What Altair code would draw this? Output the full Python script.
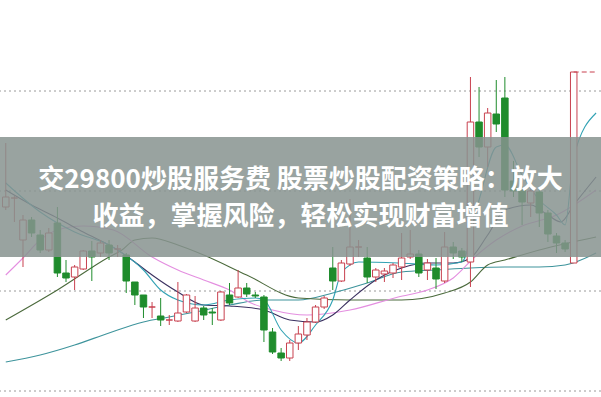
import altair as alt
import pandas as pd

# Daily candles (index = trading day)
day = list(range(67))
open_ = [10.84, 10.93, 10.51, 10.71, 10.56, 10.41, 10.68, 10.18, 10.14, 10.22,
         10.40, 10.38, 10.46, 10.42, 10.36, 10.09, 9.96, 9.84, 9.75, 9.71,
         9.70, 9.79, 9.70, 9.83, 9.79, 9.71, 9.96, 9.94, 10.03, 9.96,
         9.94, 9.59, 9.38, 9.33, 9.48, 9.56, 9.69, 9.84, 10.23, 10.10,
         10.27, 10.44, 10.33, 10.14, 10.17, 10.18, 10.24, 10.34, 10.37, 10.21,
         10.23, 10.10, 10.44, 10.40, 10.29, 11.69, 11.44, 11.77, 11.93, 11.10,
         11.01, 10.88, 10.99, 10.78, 10.55, 10.48, 10.28]
high = [11.48, 10.95, 10.76, 10.74, 10.61, 10.63, 10.84, 10.31, 10.26, 10.41,
        10.50, 10.51, 10.51, 10.46, 10.38, 10.09, 9.96, 9.89, 9.93, 9.76,
        10.09, 9.97, 9.95, 9.85, 9.83, 10.00, 10.08, 10.21, 10.08, 9.99,
        9.96, 9.63, 9.43, 9.51, 9.65, 9.73, 9.86, 9.95, 10.44, 10.31,
        10.92, 10.51, 10.44, 10.23, 10.23, 10.28, 10.58, 10.61, 10.41, 10.32,
        10.33, 10.59, 10.49, 10.43, 12.14, 12.04, 11.83, 12.11, 12.14, 11.30,
        11.05, 11.04, 11.03, 10.81, 10.58, 10.51, 12.19]
low = [10.81, 10.69, 10.24, 10.54, 10.38, 10.39, 10.14, 10.09, 10.01, 10.21,
       10.10, 10.34, 10.31, 10.34, 9.98, 9.86, 9.73, 9.73, 9.65, 9.66,
       9.69, 9.78, 9.69, 9.71, 9.66, 9.70, 9.86, 9.93, 9.94, 9.93,
       9.49, 9.37, 9.30, 9.30, 9.41, 9.51, 9.68, 9.82, 10.01, 10.09,
       10.25, 10.34, 10.08, 10.09, 10.09, 10.13, 10.11, 10.32, 10.14, 10.11,
       10.02, 10.08, 10.32, 10.29, 10.04, 11.34, 11.24, 11.59, 10.94, 10.94,
       10.66, 10.74, 10.64, 10.49, 10.38, 10.39, 10.28]
close = [10.94, 10.93, 10.71, 10.58, 10.41, 10.58, 10.18, 10.13, 10.24, 10.40,
         10.34, 10.48, 10.38, 10.42, 10.10, 9.96, 9.84, 9.84, 9.71, 9.71,
         9.78, 9.96, 9.83, 9.76, 9.78, 9.99, 9.88, 10.03, 9.97, 9.95,
         9.61, 9.39, 9.33, 9.48, 9.57, 9.69, 9.84, 9.93, 10.10, 10.28,
         10.44, 10.44, 10.14, 10.21, 10.20, 10.26, 10.33, 10.37, 10.18, 10.28,
         10.12, 10.44, 10.38, 10.34, 11.69, 11.44, 11.78, 11.67, 11.01, 11.00,
         10.89, 11.00, 10.78, 10.57, 10.48, 10.42, 12.19]

# Moving-average lines (day, value)
ma_a_day = [0, 4, 8, 12, 16, 19, 22, 26, 30, 34, 38, 42, 46, 50, 54, 58, 62, 65, 68.6]
ma_a_val = [9.29, 9.36, 9.46, 9.58, 9.69, 9.74, 9.79, 9.86, 9.91, 9.91, 9.98, 10.08,
            10.19, 10.21, 10.23, 10.24, 10.24, 10.26, 10.38]
ma_b_day = [0, 6, 12, 13.5, 15, 17, 20, 23, 28, 34, 40, 46, 51, 54, 56, 58, 62, 68.6]
ma_b_val = [9.71, 10.01, 10.34, 10.41, 10.51, 10.53, 10.46, 10.36, 10.16, 9.93, 9.91,
            9.91, 9.98, 10.09, 10.26, 10.31, 10.41, 10.54]
ma_c_day = [0, 2, 4, 6, 9, 12.5, 17, 20, 23, 26, 28.5, 31, 35, 40, 45.6, 49, 52, 54.5,
            57, 60, 64, 68.6]
ma_c_val = [10.16, 10.33, 10.51, 10.61, 10.65, 10.61, 10.34, 10.21, 10.11, 10.01, 9.88,
            9.81, 9.76, 9.81, 9.94, 10.01, 10.13, 10.34, 10.51, 10.65, 10.76, 11.01]
ma_d_day = [0, 3, 6, 9, 13, 15, 17, 20, 23, 26, 30, 33, 36, 38, 40, 43, 46, 49, 52, 54,
            56, 58, 61, 63, 64.5, 66, 68.6]
ma_d_val = [11.01, 10.86, 10.73, 10.59, 10.41, 10.29, 10.16, 9.99, 9.86, 9.85, 9.81,
            9.71, 9.69, 9.76, 9.91, 10.11, 10.23, 10.28, 10.28, 10.33, 10.56, 10.81,
            10.86, 10.76, 10.69, 10.86, 11.14]
ma_e_day = [0, 4, 8, 12, 16, 18, 20, 23, 26, 29, 30, 32, 34, 36, 38, 39, 41, 45.6, 50,
            53, 55, 57, 58, 60, 62, 64, 65, 66, 68.6]
ma_e_val = [11.08, 10.79, 10.59, 10.46, 10.21, 10.01, 9.91, 9.86, 9.91, 9.93, 9.91,
            9.61, 9.48, 9.66, 9.91, 10.18, 10.29, 10.28, 10.26, 10.29, 10.91, 11.44,
            11.46, 11.16, 10.91, 10.76, 10.66, 11.34, 11.78]

X_DOM = [-0.09, 68.59]
Y_DOM = [8.94, 12.91]
RED = "#c8414f"
GREEN = "#1f8c2c"

xs = alt.Scale(domain=X_DOM, nice=False, zero=False)
ys = alt.Scale(domain=Y_DOM, nice=False, zero=False)

candles = pd.DataFrame({"day": day, "open": open_, "high": high, "low": low, "close": close})
candles["up"] = candles["close"] >= candles["open"]

grid = pd.DataFrame({"level": [12.0, 11.0, 10.0, 9.0]})
grid_rules = alt.Chart(grid).mark_rule(color="#9a9a9a", strokeDash=[2, 3], strokeWidth=1).encode(
    y=alt.Y("level:Q", scale=ys, axis=None)
)

def ma_layer(days, vals, color, width=1.1):
    df = pd.DataFrame({"day": days, "v": vals})
    return alt.Chart(df).mark_line(color=color, strokeWidth=width, interpolate="monotone").encode(
        x=alt.X("day:Q", scale=xs, axis=None),
        y=alt.Y("v:Q", scale=ys, axis=None),
    )

lines = [
    ma_layer(ma_a_day, ma_a_val, "#3e949c"),
    ma_layer(ma_b_day, ma_b_val, "#4b6a3c"),
    ma_layer(ma_c_day, ma_c_val, "#e48fe0"),
    ma_layer(ma_d_day, ma_d_val, "#3b3160"),
    ma_layer(ma_e_day, ma_e_val, "#32a2b4"),
]

color_enc = alt.condition("datum.up", alt.value(RED), alt.value(GREEN))

wicks = alt.Chart(candles).mark_rule(strokeWidth=1).encode(
    x=alt.X("day:Q", scale=xs, axis=None),
    y=alt.Y("low:Q", scale=ys, axis=None),
    y2="high:Q",
    color=color_enc,
)

bodies = alt.Chart(candles).mark_bar(size=6.5, strokeWidth=1).encode(
    x=alt.X("day:Q", scale=xs, axis=None),
    y=alt.Y("open:Q", scale=ys, axis=None),
    y2="close:Q",
    fill=alt.condition("datum.up", alt.value("white"), alt.value(GREEN)),
    stroke=color_enc,
)

last = candles.tail(1).assign(end=X_DOM[1])
last_line = alt.Chart(last).mark_rule(color=RED, strokeDash=[5, 3], strokeWidth=1).encode(
    x=alt.X("day:Q", scale=xs, axis=None),
    x2="end:Q",
    y=alt.Y("close:Q", scale=ys, axis=None),
)

banner = alt.Chart(pd.DataFrame({"a": [0]})).mark_rect(color="#87938f", opacity=0.85).encode(
    x=alt.value(0), x2=alt.value(601), y=alt.value(137), y2=alt.value(257)
)

title_lines = pd.DataFrame({
    "t": ["交29800炒股服务费 股票炒股配资策略：放大", "收益，掌握风险，轻松实现财富增值"],
    "ypos": [180, 217],
})
caption = alt.Chart(title_lines).mark_text(
    font="Noto Sans CJK SC", fontSize=26, fontWeight="bold", color="white",
    align="center", baseline="middle",
).encode(x=alt.value(300.5), y=alt.Y("ypos:Q", scale=None), text="t:N")

chart = alt.layer(grid_rules, *lines, wicks, bodies, last_line, banner, caption).properties(
    width=601, height=397, autosize=alt.AutoSizeParams(type="none"), padding=0
).configure_view(stroke=None)

chart.save("out.html", embed_options={"renderer": "svg", "actions": False})
